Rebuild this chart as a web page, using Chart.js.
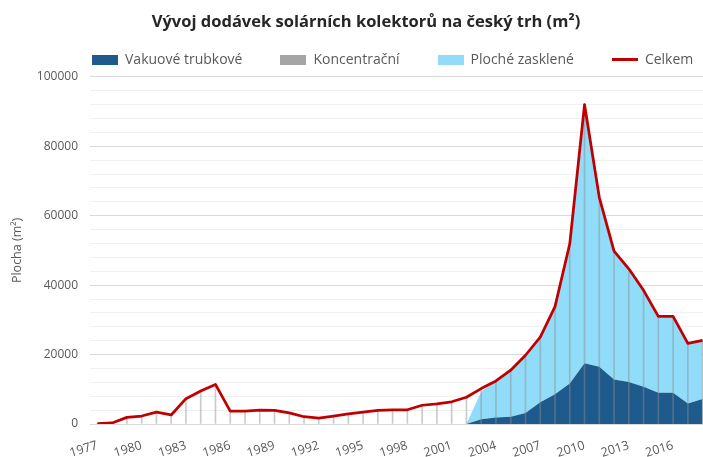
<!DOCTYPE html>
<html>
<head>
<meta charset="utf-8">
<script src="https://cdn.jsdelivr.net/npm/chart.js@4.4.1/dist/chart.umd.min.js"></script>
<style>
  html, body { margin: 0; padding: 0; background: #fff; overflow: hidden; }
  .chart-box { width: 732px; height: 457px; }
</style>
</head>
<body>
<div class="chart-box"><canvas id="solar"></canvas></div>
<script>
// roky 1977-2018
const years = [
    1977, 1978, 1979, 1980, 1981, 1982, 1983, 1984, 1985, 1986,
    1987, 1988, 1989, 1990, 1991, 1992, 1993, 1994, 1995, 1996,
    1997, 1998, 1999, 2000, 2001, 2002, 2003, 2004, 2005, 2006,
    2007, 2008, 2009, 2010, 2011, 2012, 2013, 2014, 2015, 2016,
    2017, 2018
];

// plocha v m2
const celkem = [
    100, 300, 1900, 2300, 3400, 2600, 7300, 9500, 11400, 3700,
    3700, 4000, 3900, 3200, 2100, 1700, 2300, 2900, 3400, 3900,
    4100, 4100, 5400, 5800, 6400, 7700, 10200, 12400, 15500, 19800,
    25000, 33800, 51900, 92000, 65300, 49800, 44700, 38500, 31000, 31000,
    23200, 24100
];
const vakuove = [
    0, 0, 0, 0, 0, 0, 0, 0, 0, 0,
    0, 0, 0, 0, 0, 0, 0, 0, 0, 0,
    0, 0, 0, 0, 0, 0, 1400, 1900, 2100, 3200,
    6300, 8600, 11700, 17500, 16500, 12800, 12100, 10700, 9000, 9000,
    5900, 7200
];
const koncentracni = [
    0, 0, 0, 0, 0, 0, 0, 0, 0, 0,
    0, 0, 0, 0, 0, 0, 0, 0, 0, 0,
    0, 0, 0, 0, 0, 0, 0, 0, 0, 0,
    0, 0, 0, 0, 0, 0, 0, 0, 0, 0,
    0, 0
];
const ploche = [
    0, 0, 0, 0, 0, 0, 0, 0, 0, 0,
    0, 0, 0, 0, 0, 0, 0, 0, 0, 0,
    0, 0, 0, 0, 0, 0, 7900, 10500, 13400, 16600,
    18700, 25200, 40200, 74500, 48800, 37000, 32600, 27800, 22000, 22000,
    17300, 16900
];
const yTicks = [0, 20000, 40000, 60000, 80000, 100000];

const textColor = '#595959';
Chart.defaults.font.family = '"Open Sans", sans-serif';
Chart.defaults.color = textColor;

// legend swatch drawn as small canvas
function swatch(color, h) {
    const c = document.createElement('canvas');
    c.width = 26;
    c.height = h;
    const ctx = c.getContext('2d');
    ctx.fillStyle = color;
    ctx.fillRect(0, 0, 26, h);
    return c;
}

// legenda v předloze nezačíná u levého okraje
const legendShift = {
    id: 'legendShift',
    afterLayout(chart) {
        chart.legend.left += 54;
        chart.legend.right += 54;
    }
};

const areaStyle = { type: 'line', stack: 'plocha', borderWidth: 0, pointRadius: 0, tension: 0, order: 2 };

new Chart(document.getElementById('solar'), {
    type: 'line',
    data: {
        labels: years,
        datasets: [
            { ...areaStyle, label: 'Vakuové trubkové', data: vakuove, backgroundColor: '#1f5a8c', borderColor: '#1f5a8c', fill: 'origin', pointStyle: swatch('#1f5a8c', 10) },
            { ...areaStyle, label: 'Koncentrační', data: koncentracni, backgroundColor: '#a5a5a5', borderColor: '#a5a5a5', fill: '-1', pointStyle: swatch('#a5a5a5', 10) },
            { ...areaStyle, label: 'Ploché zasklené', data: ploche, backgroundColor: '#91dcf8', borderColor: '#91dcf8', fill: '-1', pointStyle: swatch('#91dcf8', 10) },
            {
                type: 'line',
                label: 'Celkem',
                data: celkem,
                stack: 'celkem',
                borderColor: '#c00000',
                backgroundColor: '#c00000',
                borderWidth: 2.75,
                borderJoinStyle: 'round',
                pointRadius: 0,
                tension: 0,
                fill: false,
                order: 0,
                pointStyle: swatch('#c00000', 3),
            },
            {
                // svislé spojnice k ose
                type: 'bar',
                label: 'drop',
                data: celkem,
                stack: 'drop',
                backgroundColor: 'rgba(140,140,140,0.45)',
                barThickness: 1,
                order: 1,
            },
        ]
    },
    options: {
        responsive: true,
        maintainAspectRatio: false,
        animation: false,
        plugins: {
            title: {
                display: true,
                text: 'Vývoj dodávek solárních kolektorů na český trh (m²)',
                color: '#262626',
                font: { size: 16.5, weight: 'bold' },
                padding: { top: 12, bottom: -17 },
            },
            legend: {
                align: 'start',
                labels: {
                    usePointStyle: true,
                    pointStyleWidth: 26,
                    padding: 38,
                    color: textColor,
                    font: { size: 14 },
                    filter: (item) => item.text !== 'drop',
                    sort: (a, b) => a.datasetIndex - b.datasetIndex,
                }
            },
            tooltip: { enabled: false },
        },
        scales: {
            x: {
                offset: true,
                grid: { display: false },
                border: { display: false },
                ticks: {
                    autoSkip: false,
                    minRotation: 17,
                    maxRotation: 17,
                    padding: 6,
                    font: { size: 12.5 },
                    callback: function (value, index) {
                        return index % 3 === 0 ? years[index] : '';
                    }
                },
                afterFit: (scale) => { scale.height = 33; },
            },
            y: {
                stacked: true,
                min: 0,
                max: 100000,
                border: { display: false },
                grid: {
                    drawTicks: false,
                    color: (ctx) => yTicks.includes(ctx.tick.value) ? '#d9d9d9' : '#f0f0f0',
                },
                ticks: {
                    stepSize: 4000,
                    padding: 12,
                    autoSkip: false,
                    font: { size: 12 },
                    callback: (value) => yTicks.includes(value) ? String(value) : '',
                },
                title: {
                    display: true,
                    text: 'Plocha (m²)',
                    color: textColor,
                    font: { size: 12.5 },
                    padding: { top: 10, bottom: 0 },
                },
                afterFit: (scale) => { scale.width = 90; },
            },
            // prázdná osa vpravo, aby plocha grafu končila za okrajem jako v předloze
            spacer: {
                position: 'right',
                display: true,
                grid: { display: false },
                border: { display: false },
                ticks: { display: false },
                afterFit: (scale) => { scale.width = 22; },
            },
        }
    },
    plugins: [legendShift]
});
</script>
</body>
</html>
